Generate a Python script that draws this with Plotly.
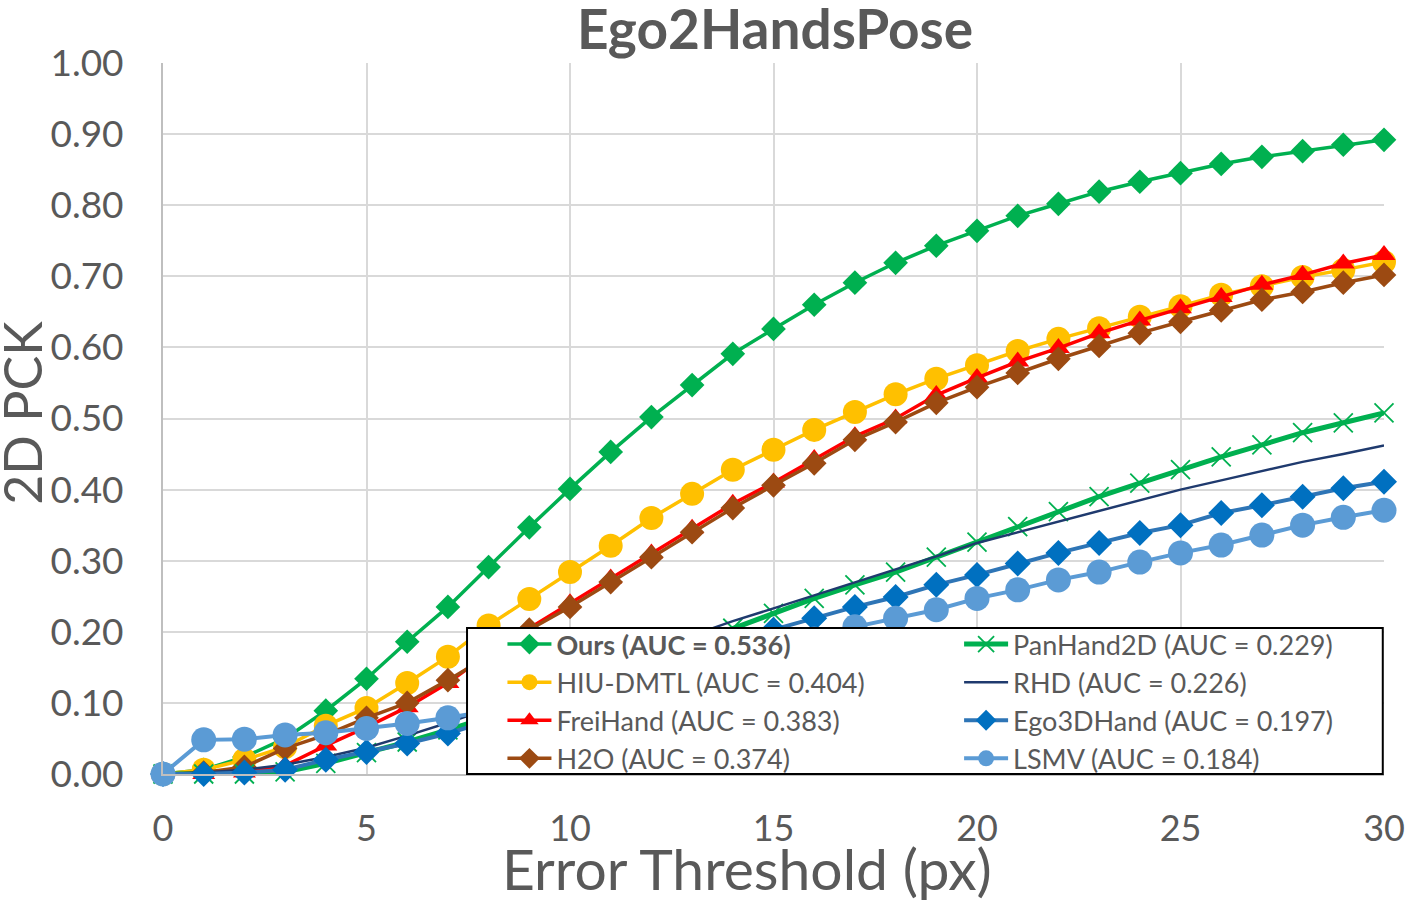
import plotly.graph_objects as go

# PCK curves on Ego2Hands (threshold in px)
thresholds = list(range(31))

ours = [0.000, 0.006, 0.024, 0.050, 0.089, 0.134, 0.186, 0.235, 0.291, 0.347, 0.401,
        0.453, 0.502, 0.547, 0.591, 0.626, 0.660, 0.691, 0.719, 0.743, 0.764,
        0.785, 0.802, 0.819, 0.833, 0.845, 0.858, 0.868, 0.876, 0.885, 0.892]
hiu_dmtl = [0.000, 0.006, 0.020, 0.038, 0.068, 0.093, 0.128, 0.165, 0.209, 0.246, 0.284,
            0.321, 0.360, 0.394, 0.428, 0.456, 0.484, 0.509, 0.534, 0.556, 0.575,
            0.595, 0.612, 0.627, 0.643, 0.658, 0.674, 0.686, 0.699, 0.709, 0.720]
freihand = [0.000, 0.000, 0.002, 0.012, 0.040, 0.066, 0.094, 0.128, 0.170, 0.205, 0.240,
            0.275, 0.310, 0.345, 0.380, 0.410, 0.443, 0.475, 0.500, 0.533, 0.557,
            0.580, 0.599, 0.620, 0.638, 0.655, 0.671, 0.688, 0.702, 0.718, 0.730]
h2o = [0.000, 0.002, 0.010, 0.036, 0.055, 0.079, 0.100, 0.132, 0.166, 0.203, 0.235,
       0.270, 0.305, 0.340, 0.374, 0.406, 0.437, 0.470, 0.495, 0.522, 0.544,
       0.564, 0.584, 0.602, 0.620, 0.636, 0.652, 0.667, 0.678, 0.691, 0.702]
panhand2d = [0.000, 0.000, 0.000, 0.003, 0.015, 0.030, 0.045, 0.062, 0.080, 0.100, 0.120,
             0.141, 0.162, 0.183, 0.205, 0.226, 0.247, 0.266, 0.284, 0.305, 0.326,
             0.348, 0.369, 0.390, 0.409, 0.428, 0.446, 0.463, 0.480, 0.494, 0.508]
rhd = [0.000, 0.002, 0.006, 0.013, 0.024, 0.037, 0.054, 0.072, 0.092, 0.113, 0.134,
       0.155, 0.175, 0.195, 0.215, 0.233, 0.251, 0.269, 0.287, 0.306, 0.325,
       0.340, 0.354, 0.369, 0.385, 0.400, 0.413, 0.426, 0.439, 0.450, 0.462]
ego3dhand = [0.000, 0.000, 0.002, 0.006, 0.020, 0.031, 0.043, 0.057, 0.074, 0.092, 0.110,
             0.129, 0.147, 0.166, 0.185, 0.203, 0.219, 0.235, 0.249, 0.266, 0.280,
             0.296, 0.311, 0.325, 0.339, 0.350, 0.367, 0.378, 0.390, 0.402, 0.411]
lsmv = [0.000, 0.048, 0.049, 0.055, 0.058, 0.064, 0.071, 0.079, 0.088, 0.098, 0.109,
        0.121, 0.133, 0.146, 0.160, 0.175, 0.190, 0.207, 0.219, 0.231, 0.247,
        0.259, 0.273, 0.284, 0.298, 0.311, 0.322, 0.336, 0.350, 0.361, 0.371]

names = ['<b>Ours (AUC = 0.536)</b>', 'HIU-DMTL (AUC = 0.404)', 'FreiHand (AUC = 0.383)',
         'H2O (AUC = 0.374)', 'PanHand2D (AUC = 0.229)', 'RHD (AUC = 0.226)',
         'Ego3DHand (AUC = 0.197)', 'LSMV (AUC = 0.184)']
series = [ours, hiu_dmtl, freihand, h2o, panhand2d, rhd, ego3dhand, lsmv]

# style per series: line color, width, marker symbol, marker size, marker color
styles = [
    dict(lc='#00B050', lw=3.5, sym='diamond', ms=19, mc='#00B050'),
    dict(lc='#FFC000', lw=3.5, sym='circle', ms=24, mc='#FFC000'),
    dict(lc='#FF0000', lw=3.5, sym='triangle-up', ms=20, mc='#FF0000'),
    dict(lc='#9C4A12', lw=3.5, sym='diamond', ms=19, mc='#9C4A12'),
    dict(lc='#00B050', lw=5, sym='x-thin', ms=19, mc='#00B050'),
    dict(lc='#1F3A6E', lw=2.5, sym=None, ms=0, mc='#1F3A6E'),
    dict(lc='#2E75B6', lw=4, sym='diamond', ms=20, mc='#0070C0'),
    dict(lc='#5B9BD5', lw=4, sym='circle', ms=25, mc='#5B9BD5'),
]

TXT = '#595959'
FONT = 'Lato'

fig = go.Figure()
for i, (nm, ys, st) in enumerate(zip(names, series, styles)):
    if st['sym'] is None:
        mode = 'lines'
        marker = None
    elif st['sym'] == 'x-thin':
        mode = 'lines+markers'
        marker = dict(symbol='x-thin', size=st['ms'],
                      line=dict(color=st['mc'], width=1.8))
    else:
        mode = 'lines+markers'
        marker = dict(symbol=st['sym'], size=st['ms'], color=st['mc'],
                      line=dict(width=0))
    fig.add_trace(go.Scatter(
        x=thresholds, y=ys, name=nm, mode=mode,
        line=dict(color=st['lc'], width=st['lw']),
        marker=marker, cliponaxis=False,
        legend='legend' if i < 4 else 'legend2',
    ))

# white legend frame, drawn over the curves
fig.add_shape(type='rect', xref='paper', yref='paper',
              x0=0.249, x1=0.999, y0=0.0, y1=0.2053,
              fillcolor='white', line=dict(color='black', width=2), layer='above')

legend_common = dict(
    yanchor='top', xanchor='left', y=0.2166,
    bgcolor='rgba(0,0,0,0)', borderwidth=0,
    font=dict(family=FONT, size=27, color=TXT),
    itemwidth=44, tracegroupgap=0,
)

fig.update_layout(
    width=1405, height=904,
    paper_bgcolor='white', plot_bgcolor='white',
    margin=dict(l=163, r=21, t=63, b=130, autoexpand=False),
    font=dict(family=FONT, color=TXT),
    legend=dict(x=0.278, **legend_common),
    legend2=dict(x=0.652, **legend_common),
    showlegend=True,
)

fig.update_xaxes(
    range=[0, 30], tickvals=[0, 5, 10, 15, 20, 25, 30], automargin=False,
    showgrid=True, gridcolor='#D9D9D9', gridwidth=2,
    showline=True, linecolor='#BFBFBF', linewidth=2,
    zeroline=False, ticks='', ticklabelstandoff=22,
    tickfont=dict(family=FONT, size=36, color=TXT),
)
fig.update_yaxes(
    range=[0, 1], dtick=0.1, tickformat='.2f', automargin=False,
    showgrid=True, gridcolor='#D9D9D9', gridwidth=2,
    showline=True, linecolor='#BFBFBF', linewidth=2,
    zeroline=False, ticks='', ticklabelstandoff=30,
    tickfont=dict(family=FONT, size=37, color=TXT),
)

# title and axis titles
fig.add_annotation(text='<b>Ego2HandsPose</b>', xref='paper', yref='paper',
                   x=0.501, y=1.0, xanchor='center', yanchor='bottom', yshift=0,
                   showarrow=False, font=dict(family=FONT, size=55, color=TXT))
fig.add_annotation(text='Error Threshold (px)', xref='paper', yref='paper',
                   x=0.478, y=-0.1828, xanchor='center', yanchor='bottom',
                   showarrow=False, font=dict(family=FONT, size=57, color=TXT))
fig.add_annotation(text='2D PCK', xref='paper', yref='paper', textangle=-90,
                   x=-0.1425, y=0.508, xanchor='left', yanchor='middle',
                   showarrow=False, font=dict(family=FONT, size=52, color=TXT))

# page body has a default margin; drop it so the figure sits at the window corner
fig.write_html('out.html', config={'displayModeBar': False},
               post_script="document.body.style.margin='0';")
